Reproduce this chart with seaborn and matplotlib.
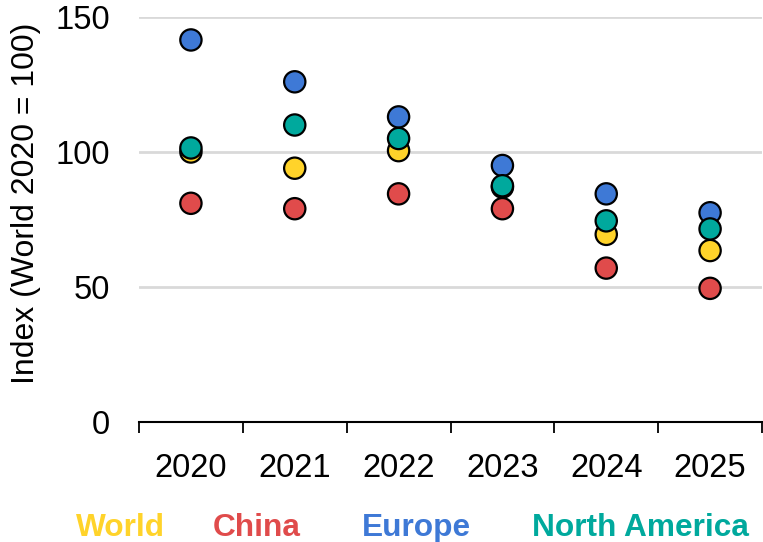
import matplotlib
matplotlib.use("Agg")
import matplotlib.pyplot as plt
import seaborn as sns
import pandas as pd

years = ["2020", "2021", "2022", "2023", "2024", "2025"]
world = [100, 94, 100.5, 87, 69.5, 63.5]
china = [81, 79, 84.5, 79, 57, 49.5]
europe = [141.5, 126, 113, 95, 84.5, 77.5]
north_america = [101.5, 110, 105, 87.5, 74.5, 71.5]

series_names = ["World", "China", "Europe", "North America"]
colors = ["#FFD32A", "#E04B4B", "#3E79D6", "#00A99D"]

rows = []
for name, vals in zip(series_names, [world, china, europe, north_america]):
    for y, v in zip(years, vals):
        rows.append({"Year": y, "Value": v, "Region": name})
df = pd.DataFrame(rows)

sns.set_theme(style="white")
plt.rcParams['font.family'] = ['Liberation Sans', 'DejaVu Sans']

fig = plt.figure(figsize=(7.63, 5.42), dpi=100)
ax = fig.add_axes([139/763, 1 - 422/542, (762 - 139)/763, (422 - 17)/542])

sns.scatterplot(data=df, x="Year", y="Value", hue="Region", hue_order=series_names,
                palette=colors, s=235, edgecolor="black", linewidth=1.6,
                legend=False, ax=ax, zorder=3)

ax.set_xlim(-0.5, 5.5)
ax.set_ylim(0, 150)
ax.set_yticks([0, 50, 100, 150])
ax.set_xticks(range(6))
ax.set_xticklabels(years)
ax.set_xticks([i - 0.5 for i in range(7)], minor=True)

for y in [50, 100, 150]:
    ax.axhline(y, color="#D9D9D9", linewidth=2, zorder=1)

for s in ["top", "right", "left"]:
    ax.spines[s].set_visible(False)
ax.spines["bottom"].set_color("black")
ax.spines["bottom"].set_linewidth(1.5)
ax.spines["bottom"].set_zorder(2)

ax.tick_params(axis="x", which="major", length=0, pad=22, labelsize=23.5, colors="black")
ax.tick_params(axis="x", which="minor", length=8, width=1.3, color="black", direction="out", bottom=True)
ax.tick_params(axis="y", which="major", length=0, pad=21, labelsize=23.5, colors="black")

ax.set_xlabel("")
ax.set_ylabel("Index (World 2020 = 100)", fontsize=23, color="black")
ax.yaxis.set_label_coords(-0.157, 0.54)

legend_x = [76, 213, 362, 532]
for name, col, lx in zip(series_names, colors, legend_x):
    fig.text(lx / 763, 1 - 536 / 542, name, color=col, fontsize=22.8, fontweight="bold",
             ha="left", va="baseline")

fig.savefig("out.png", dpi=100, facecolor="white")
